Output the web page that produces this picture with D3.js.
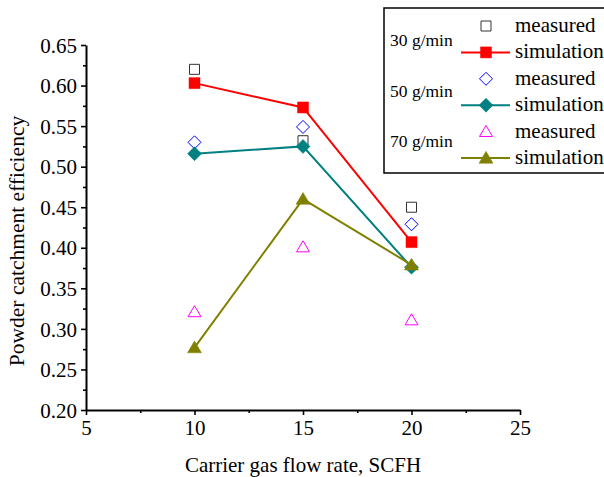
<!DOCTYPE html>
<html>
<head>
<meta charset="utf-8">
<script src="https://cdn.jsdelivr.net/npm/d3@7"></script>
<style>
  html, body { margin: 0; padding: 0; background: #fff; }
  svg { display: block; }
  svg text { font-family: "Liberation Serif", "Times New Roman", serif !important; fill: #000; }
</style>
</head>
<body>
<svg id="chart" width="604" height="477"></svg>
<script>
// Carrier gas flow rates (SCFH)
const flowRates = [10, 15, 20];

// Powder catchment efficiency per feed rate
const measured30 = [0.620, 0.532, 0.450];
const simulation30 = [0.603, 0.573, 0.407];
const measured50 = [0.530, 0.549, 0.429];
const simulation50 = [0.516, 0.525, 0.376];
const measured70 = [0.321, 0.401, 0.311];
const simulation70 = [0.277, 0.460, 0.379];

const feedLabels = ["30 g/min", "50 g/min", "70 g/min"];
const xTicks = [5, 10, 15, 20, 25];
const yTicks = [0.20, 0.25, 0.30, 0.35, 0.40, 0.45, 0.50, 0.55, 0.60, 0.65];

const svg = d3.select("#chart");

const x = d3.scaleLinear().domain([5, 25]).range([86, 520]);
const y = d3.scaleLinear().domain([0.20, 0.65]).range([410, 45]);

// marker outline generator
function shapePath(shape, cx, cy, r) {
  const p = d3.path();
  if (shape === "square") {
    p.rect(cx - r, cy - r, 2 * r, 2 * r);
  } else if (shape === "diamond") {
    p.moveTo(cx, cy - r); p.lineTo(cx + r, cy); p.lineTo(cx, cy + r); p.lineTo(cx - r, cy); p.closePath();
  } else {
    p.moveTo(cx, cy - r * 0.95); p.lineTo(cx + r, cy + r * 0.75); p.lineTo(cx - r, cy + r * 0.75); p.closePath();
  }
  return p.toString();
}

const series = [
  { name: "measured", group: 0, values: measured30, shape: "square", r: 5, color: "#333333", fill: "none", line: false },
  { name: "measured", group: 1, values: measured50, shape: "diamond", r: 6.5, color: "#0000ff", fill: "none", line: false },
  { name: "measured", group: 2, values: measured70, shape: "triangle", r: 6.5, color: "#ff00ff", fill: "none", line: false },
  { name: "simulation", group: 0, values: simulation30, shape: "square", r: 5.5, color: "#ff0000", fill: "#ff0000", line: true },
  { name: "simulation", group: 1, values: simulation50, shape: "diamond", r: 7, color: "#008080", fill: "#008080", line: true },
  { name: "simulation", group: 2, values: simulation70, shape: "triangle", r: 7, color: "#808000", fill: "#808000", line: true }
];

// Axes
const axisG = svg.append("g");
const yAxis = axisG.append("g").attr("transform", `translate(${x(5)},0)`)
  .call(d3.axisLeft(y).tickValues(yTicks).tickFormat(d3.format(".2f")).tickSize(5).tickSizeOuter(0));
const yMinor = axisG.append("g").attr("transform", `translate(${x(5)},0)`)
  .call(d3.axisLeft(y).tickValues(yTicks.slice(0, -1).map(v => v + 0.025)).tickFormat("").tickSize(3).tickSizeOuter(0));
const xAxis = axisG.append("g").attr("transform", `translate(0,${y(0.20)})`)
  .call(d3.axisBottom(x).tickValues(xTicks).tickSize(5).tickSizeOuter(0));
const xMinor = axisG.append("g").attr("transform", `translate(0,${y(0.20)})`)
  .call(d3.axisBottom(x).tickValues([7.5, 12.5, 17.5, 22.5]).tickFormat("").tickSize(3).tickSizeOuter(0));

axisG.selectAll("g").attr("font-family", null).attr("font-size", null);
axisG.selectAll(".domain").attr("stroke", "#000").attr("stroke-width", 2);
axisG.selectAll(".tick line").attr("stroke", "#000").attr("stroke-width", 1.6);
yMinor.select(".domain").remove();
xMinor.select(".domain").remove();
axisG.selectAll(".tick text").attr("fill", "#000").style("font-size", "21px");
yAxis.selectAll(".tick text").attr("x", -9).attr("dy", "0.34em");
xAxis.selectAll(".tick text").attr("y", 10).attr("dy", "0.72em");

// Axis titles
svg.append("text")
  .attr("x", 303).attr("y", 472).attr("text-anchor", "middle")
  .style("font-size", "21px").text("Carrier gas flow rate, SCFH");
svg.append("text")
  .attr("transform", "translate(24,241) rotate(-90)").attr("text-anchor", "middle")
  .style("font-size", "21.5px").text("Powder catchment efficiency");

// Series
const plot = svg.append("g");
const lineGen = d3.line().x(d => x(d[0])).y(d => y(d[1]));
series.forEach(s => {
  const pts = flowRates.map((f, i) => [f, s.values[i]]);
  const g = plot.append("g");
  if (s.line) {
    g.append("path").attr("d", lineGen(pts)).attr("fill", "none")
      .attr("stroke", s.color).attr("stroke-width", 2);
  }
  g.selectAll("path.mark").data(pts).join("path").attr("class", "mark")
    .attr("d", d => shapePath(s.shape, x(d[0]), y(d[1]), s.r))
    .attr("fill", s.fill).attr("stroke", s.color).attr("stroke-width", s.fill === "none" ? 1 : 0.5);
});

// Legend
const legend = svg.append("g");
legend.append("rect").attr("x", 384).attr("y", 8).attr("width", 240).attr("height", 165)
  .attr("fill", "#fff").attr("stroke", "#000").attr("stroke-width", 1.5);
const rowY0 = 26, rowStep = 26.4;
const legendOrder = [0, 3, 1, 4, 2, 5];
legendOrder.forEach((si, k) => {
  const s = series[si];
  const cy = rowY0 + k * rowStep;
  if (s.line) {
    legend.append("line").attr("x1", 461).attr("x2", 510).attr("y1", cy).attr("y2", cy)
      .attr("stroke", s.color).attr("stroke-width", 2);
  }
  legend.append("path").attr("d", shapePath(s.shape, 486, cy, s.r))
    .attr("fill", s.fill).attr("stroke", s.color).attr("stroke-width", s.fill === "none" ? 1 : 0.5);
  legend.append("text").attr("x", 515).attr("y", cy + 6).style("font-size", "21px").text(s.name);
});
feedLabels.forEach((t, i) => {
  legend.append("text").attr("x", 390).attr("y", 45.7 + i * 50.8)
    .style("font-size", "17.5px").text(t);
});
</script>
</body>
</html>
